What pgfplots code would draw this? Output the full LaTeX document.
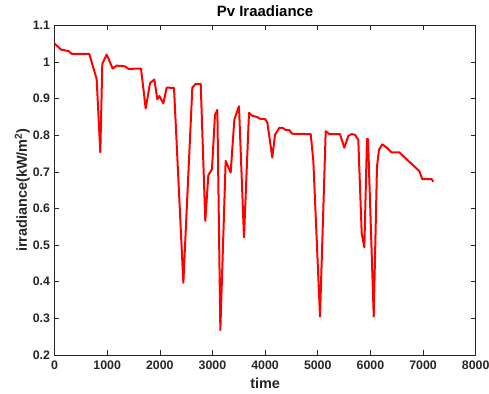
\documentclass[border=0pt]{standalone}
\usepackage{fontspec}
\setmainfont{Liberation Sans}
\usepackage{pgfplots}
\pgfplotsset{compat=1.18}
\definecolor{axgray}{gray}{0.15}
\begin{document}
\begin{tikzpicture}
\begin{axis}[
  scale only axis,
  width=421.2bp, height=329.7bp,
  xmin=0, xmax=8000, ymin=0.2, ymax=1.1,
  xtick={0,1000,...,8000},
  ytick={0.2,0.3,0.4,0.5,0.6,0.7,0.8,0.9,1,1.1},
  yticklabels={0.2,0.3,0.4,0.5,0.6,0.7,0.8,0.9,1,1.1},
  scaled x ticks=false,
  xticklabel style={/pgf/number format/1000 sep={}, yshift=-2bp},
  yticklabel style={xshift=-1bp},
  /pgf/number format/assume math mode=true,
  tick align=inside,
  major tick length=5bp,
  axis line style={axgray, line width=0.6bp},
  every tick/.style={axgray, line width=0.6bp},
  tick label style={font=\fontsize{12.4}{14}\selectfont\bfseries, text=axgray},
  title={Pv Iraadiance},
  title style={font=\fontsize{15}{17}\selectfont\bfseries, yshift=-1bp},
  xlabel={time},
  ylabel={irradiance(kW/m\textsuperscript{2})},
  label style={font=\fontsize{14.5}{16}\selectfont\bfseries, text=axgray},
  xlabel style={yshift=-2bp},
  ylabel style={yshift=-4bp},
]
\addplot[red, line width=2bp, line join=round] coordinates {
(0,1.05) (130,1.033) (263,1.03) (326,1.022) (661,1.022) (801,0.953) (870,0.753)
(908,0.995) (991,1.02) (1105,0.982) (1181,0.99) (1339,0.988) (1409,0.981)
(1643,0.982) (1732,0.873) (1814,0.942) (1896,0.952) (1953,0.898) (1991,0.907)
(2067,0.887) (2131,0.93) (2270,0.929) (2447,0.397) (2618,0.93) (2681,0.94)
(2777,0.94) (2864,0.566) (2922,0.691) (2991,0.707) (3048,0.855) (3093,0.869)
(3150,0.268) (3251,0.73) (3346,0.698) (3416,0.843) (3504,0.879) (3599,0.521)
(3694,0.861) (3757,0.853) (3840,0.85) (3903,0.845) (3998,0.844) (4042,0.835)
(4137,0.739) (4188,0.801) (4270,0.82) (4334,0.82) (4391,0.814) (4460,0.814)
(4511,0.804) (4866,0.803) (4916,0.73) (5043,0.305) (5151,0.811) (5220,0.803)
(5422,0.803) (5505,0.766) (5581,0.798) (5645,0.803) (5708,0.801) (5770,0.787)
(5835,0.532) (5885,0.494) (5935,0.79) (5955,0.789) (6063,0.305) (6125,0.714)
(6163,0.76) (6226,0.775) (6310,0.766) (6405,0.753) (6549,0.753) (6929,0.702)
(6986,0.68) (7164,0.68) (7195,0.673)
};
\end{axis}
\pgfresetboundingbox
\path[use as bounding box] (-54.5bp,-39bp) rectangle (434.5bp,355bp);
\end{tikzpicture}
\end{document}
